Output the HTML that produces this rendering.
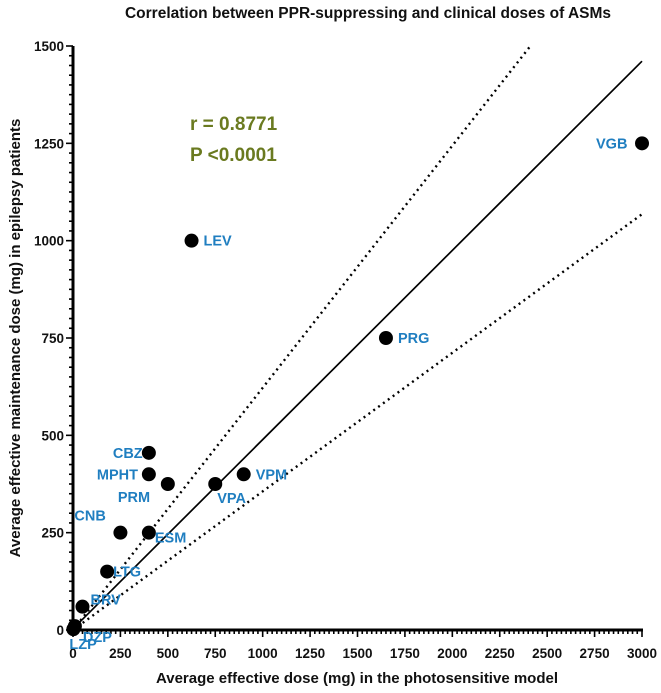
<!DOCTYPE html>
<html><head><meta charset="utf-8"><style>
body{margin:0;background:#fff;}
svg text{font-family:"Liberation Sans",sans-serif;}
</style></head><body>
<svg id="chart" width="661" height="688" viewBox="0 0 661 688" xmlns="http://www.w3.org/2000/svg">
<text x="368" y="18" text-anchor="middle" font-size="15.5" font-weight="bold" fill="#111">Correlation between PPR-suppressing and clinical doses of ASMs</text>
<text x="357" y="683" text-anchor="middle" font-size="15" font-weight="bold" fill="#111">Average effective dose (mg) in the photosensitive model</text>
<text transform="translate(20,338) rotate(-90)" text-anchor="middle" font-size="15" font-weight="bold" fill="#111">Average effective maintenance dose (mg) in epilepsy patients</text>
<text x="190" y="130" font-size="19" font-weight="bold" fill="#6a7a20">r = 0.8771</text>
<text x="190" y="161" font-size="19" font-weight="bold" fill="#6a7a20">P &lt;0.0001</text>
<g id="axes"></g>
<g id="fits"></g>
<g id="points"></g>
</svg>
<script>
const drugNames=["VGB","LEV","PRG","CBZ","MPHT","PRM","VPA","VPM","CNB","ESM","LTG","BRV","DZP","LZP"];
const xDose=[3000,625,1650,400,400,500,750,900,250,400,180,50,10,2];
const yDose=[1250,1000,750,455,400,375,375,400,250,250,150,60,10,2];
const xTicks=[0,250,500,750,1000,1250,1500,1750,2000,2250,2500,2750,3000];
const yTicks=[0,250,500,750,1000,1250,1500];
const fitLine=[3,0.486];
const upperBand=[0,0.622];
const lowerBand=[0,0.356];
const labelDx=[-46,12,12,-36,-52,-50,2,12,-46,6,6,8,8,-4];
const labelDy=[5,5,5,5,5,18,19,5,-12,10,5,-2,16,20];

const NS="http://www.w3.org/2000/svg";
const X0=73,X1=642,Y0=630,Y1=46;
const sx=v=>X0+(v/3000)*(X1-X0);
const sy=v=>Y0-(v/1500)*(Y0-Y1);
function mk(tag,attrs,parent){const e=document.createElementNS(NS,tag);for(const k in attrs)e.setAttribute(k,attrs[k]);parent.appendChild(e);return e;}
const axes=document.getElementById('axes');
let e=mk('line',{x1:X0,y1:Y0,x2:X1+1,y2:Y0,stroke:'#000','stroke-width':3},axes);


e=mk('line',{x1:X0,y1:Y0+1,x2:X0,y2:Y1,stroke:'#000','stroke-width':3},axes);


for(let v=0;v<=3000;v+=25){const major=v%250===0;mk('line',{x1:sx(v),y1:Y0,x2:sx(v),y2:Y0+(major?7:4),stroke:'#000','stroke-width':1.6},axes);}
for(let v=0;v<=1500;v+=25){const major=v%250===0;mk('line',{x1:X0,y1:sy(v),x2:X0-(major?7:4),y2:sy(v),stroke:'#000','stroke-width':1.6},axes);}
xTicks.forEach(t=>{const tx=mk('text',{x:sx(t),y:658,'text-anchor':'middle','font-size':13.5,'font-weight':'bold',fill:'#111'},axes);tx.textContent=t;

});
yTicks.forEach(t=>{const tx=mk('text',{x:X0-9,y:sy(t)+5,'text-anchor':'end','font-size':13.5,'font-weight':'bold',fill:'#111'},axes);tx.textContent=t;

});
const fits=document.getElementById('fits');
function lineFor(p,maxY){let xe=3000,ye=p[0]+p[1]*3000;if(ye>maxY){xe=(maxY-p[0])/p[1];ye=maxY;}return {x1:sx(0),y1:sy(p[0]),x2:sx(xe),y2:sy(ye)};}
e=mk('line',Object.assign(lineFor(fitLine,1500),{stroke:'#000','stroke-width':1.7}),fits);


e=mk('line',Object.assign(lineFor(upperBand,1500),{stroke:'#000','stroke-width':2.4,'stroke-dasharray':'2 4'}),fits);


e=mk('line',Object.assign(lineFor(lowerBand,1500),{stroke:'#000','stroke-width':2.4,'stroke-dasharray':'2 4'}),fits);


const pts=document.getElementById('points');
drugNames.forEach((n,i)=>{
 const cx=sx(xDose[i]),cy=sy(yDose[i]);
 const c=mk('circle',{cx:cx,cy:cy,r:7,fill:'#000'},pts);
 
 
 const t=mk('text',{x:cx+labelDx[i],y:cy+labelDy[i],'font-size':14.5,'font-weight':'bold',fill:'#1f7ec0'},pts);
 t.textContent=n;
 
 
});
</script>
</body></html>
